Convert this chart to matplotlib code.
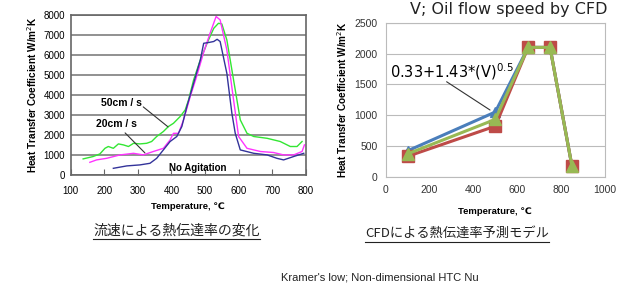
import matplotlib.pyplot as plt
from matplotlib.lines import Line2D

plt.rcParams['font.family'] = ['Liberation Sans', 'DejaVu Sans']

# --- left chart: measured HTC vs temperature ---
t_50 = [137, 167, 187, 202, 212, 227, 242, 257, 272, 287, 306, 326, 341, 356, 376, 391,
        406, 426, 441, 451, 466, 486, 506, 526, 540, 550, 565, 585, 605, 625, 645, 685,
        724, 754, 774, 789]
h_50 = [800, 920, 1050, 1330, 1420, 1330, 1550, 1500, 1420, 1580, 1550, 1580, 1670, 1920,
        2170, 2420, 2580, 2920, 3250, 3750, 4750, 5750, 6580, 7330, 7580, 7550, 6750, 4750,
        2750, 2080, 1920, 1830, 1670, 1420, 1420, 1670]
t_20 = [157, 177, 207, 247, 287, 316, 346, 376, 396, 406, 421, 436, 456, 475, 495, 515,
        533, 545, 565, 585, 600, 625, 665, 704, 734, 764, 789, 796]
h_20 = [630, 750, 830, 1000, 1080, 1000, 1170, 1330, 1750, 2080, 2080, 2750, 3920, 4920,
        6080, 7080, 7920, 7750, 6250, 3750, 1920, 1330, 1170, 1120, 1000, 1000, 1170, 1500]
t_0 = [227, 267, 306, 336, 356, 376, 396, 416, 431, 446, 466, 486, 496, 511, 526, 536,
       545, 565, 580, 590, 605, 645, 685, 714, 734, 764, 794]
h_0 = [330, 450, 500, 580, 830, 1250, 1670, 1920, 2420, 3420, 4580, 5750, 6580, 6620,
       6670, 6780, 6670, 5080, 3080, 2080, 1250, 1080, 1000, 830, 750, 920, 1080]

# --- right chart: CFD model ---
cfd_t = [100, 500, 650, 750, 850]
cfd_blue = [420, 1050, 2100, 2100, 170]
cfd_red = [330, 820, 2100, 2100, 170]
cfd_green = [370, 930, 2100, 2100, 170]

fig = plt.figure(figsize=(6.37, 2.92), dpi=100)

ax1 = fig.add_axes([0.111, 0.401, 0.369, 0.548])
ax1.plot(t_50, h_50, color='#33e633', lw=1.0)
ax1.plot(t_20, h_20, color='#ff33ff', lw=1.0)
ax1.plot(t_0, h_0, color='#33339a', lw=1.0)
ax1.set_xlim(100, 800)
ax1.set_ylim(0, 8000)
ax1.set_xticks(range(100, 801, 100))
ax1.set_yticks(range(0, 8001, 1000))
ax1.grid(axis='y', color='#888888', lw=1.3)
ax1.set_axisbelow(True)
for s in ax1.spines.values():
    s.set_color('#666666')
    s.set_linewidth(1.2)
ax1.tick_params(axis='x', direction='in', length=4, color='#666666', labelsize=7, pad=8)
ax1.tick_params(axis='y', length=0, labelsize=7, pad=4)
ax1.set_ylabel('Heat Transfer Coefficient W/m$^2$K', fontsize=7.2, fontweight='bold', labelpad=3)
ax1.set_xlabel('Temperature, \u2103', fontsize=6.8, fontweight='bold', labelpad=4)
ax1.text(250, 3600, '50cm / s', fontsize=7.5, fontweight='bold', ha='center', va='center')
ax1.annotate('', xy=(390, 2400), xytext=(316, 3400),
             arrowprops=dict(arrowstyle='-', color='#333333', lw=0.8, shrinkA=0, shrinkB=0))
ax1.text(235, 2550, '20cm / s', fontsize=7.5, fontweight='bold', ha='center', va='center')
ax1.annotate('', xy=(321, 1100), xytext=(262, 2100),
             arrowprops=dict(arrowstyle='-', color='#333333', lw=0.8, shrinkA=0, shrinkB=0))
ax1.text(477, 360, 'No Agitation', fontsize=7, fontweight='bold', ha='center', va='center')

ax2 = fig.add_axes([0.6055, 0.395, 0.344, 0.527])
ax2.plot(cfd_t, cfd_blue, color='#4a7ebb', lw=2.2, marker='^', ms=7.5)
ax2.plot(cfd_t, cfd_red, color='#be4b48', lw=2.2, marker='s', ms=8)
ax2.plot(cfd_t, cfd_green, color='#98b954', lw=2.2, marker='^', ms=8)
ax2.set_xlim(0, 1000)
ax2.set_ylim(0, 2500)
ax2.set_xticks(range(0, 1001, 200))
ax2.set_yticks(range(0, 2501, 500))
ax2.grid(axis='y', color='#bbbbbb', lw=0.8)
ax2.set_axisbelow(True)
for s in ax2.spines.values():
    s.set_color('#bbbbbb')
    s.set_linewidth(0.8)
ax2.tick_params(length=0, labelsize=7.5, colors='#333333', pad=6)
ax2.set_ylabel('Heat Transfer Coefficient W/m$^2$K', fontsize=7.2, fontweight='bold', labelpad=4)
ax2.set_xlabel('Temperature, \u2103', fontsize=6.8, fontweight='bold', labelpad=9)
ax2.text(302, 1700, '0.33+1.43*(V)$^{0.5}$', fontsize=10.5, family='DejaVu Sans',
         ha='center', va='center')
ax2.annotate('', xy=(476, 1083), xytext=(278, 1542),
             arrowprops=dict(arrowstyle='-', color='#333333', lw=0.8, shrinkA=0, shrinkB=0))

fig.text(0.953, 0.968, 'V; Oil flow speed by CFD', fontsize=11.5, family='DejaVu Sans',
         ha='right', va='center', color='#222222')

jp = ['Noto Sans CJK JP', 'DejaVu Sans']
cap1 = fig.text(0.277, 0.212, '流速による熱伝達率の変化', fontsize=10, family=jp,
                ha='center', va='center', color='#222222')
cap2 = fig.text(0.718, 0.201, 'CFDによる熱伝達率予測モデル', fontsize=9.5, family=jp,
                ha='center', va='center', color='#222222')
fig.text(0.597, 0.051, "Kramer's low; Non-dimensional HTC Nu", fontsize=8,
         ha='center', va='center', color='#222222')

# underline captions
fig.canvas.draw()
r = fig.canvas.get_renderer()
for cap in (cap1, cap2):
    bb = cap.get_window_extent(r).transformed(fig.transFigure.inverted())
    y = bb.y0 - 0.008
    fig.add_artist(Line2D([bb.x0, bb.x1], [y, y], color='#222222', lw=0.8))

fig.savefig('out.png', dpi=100)
